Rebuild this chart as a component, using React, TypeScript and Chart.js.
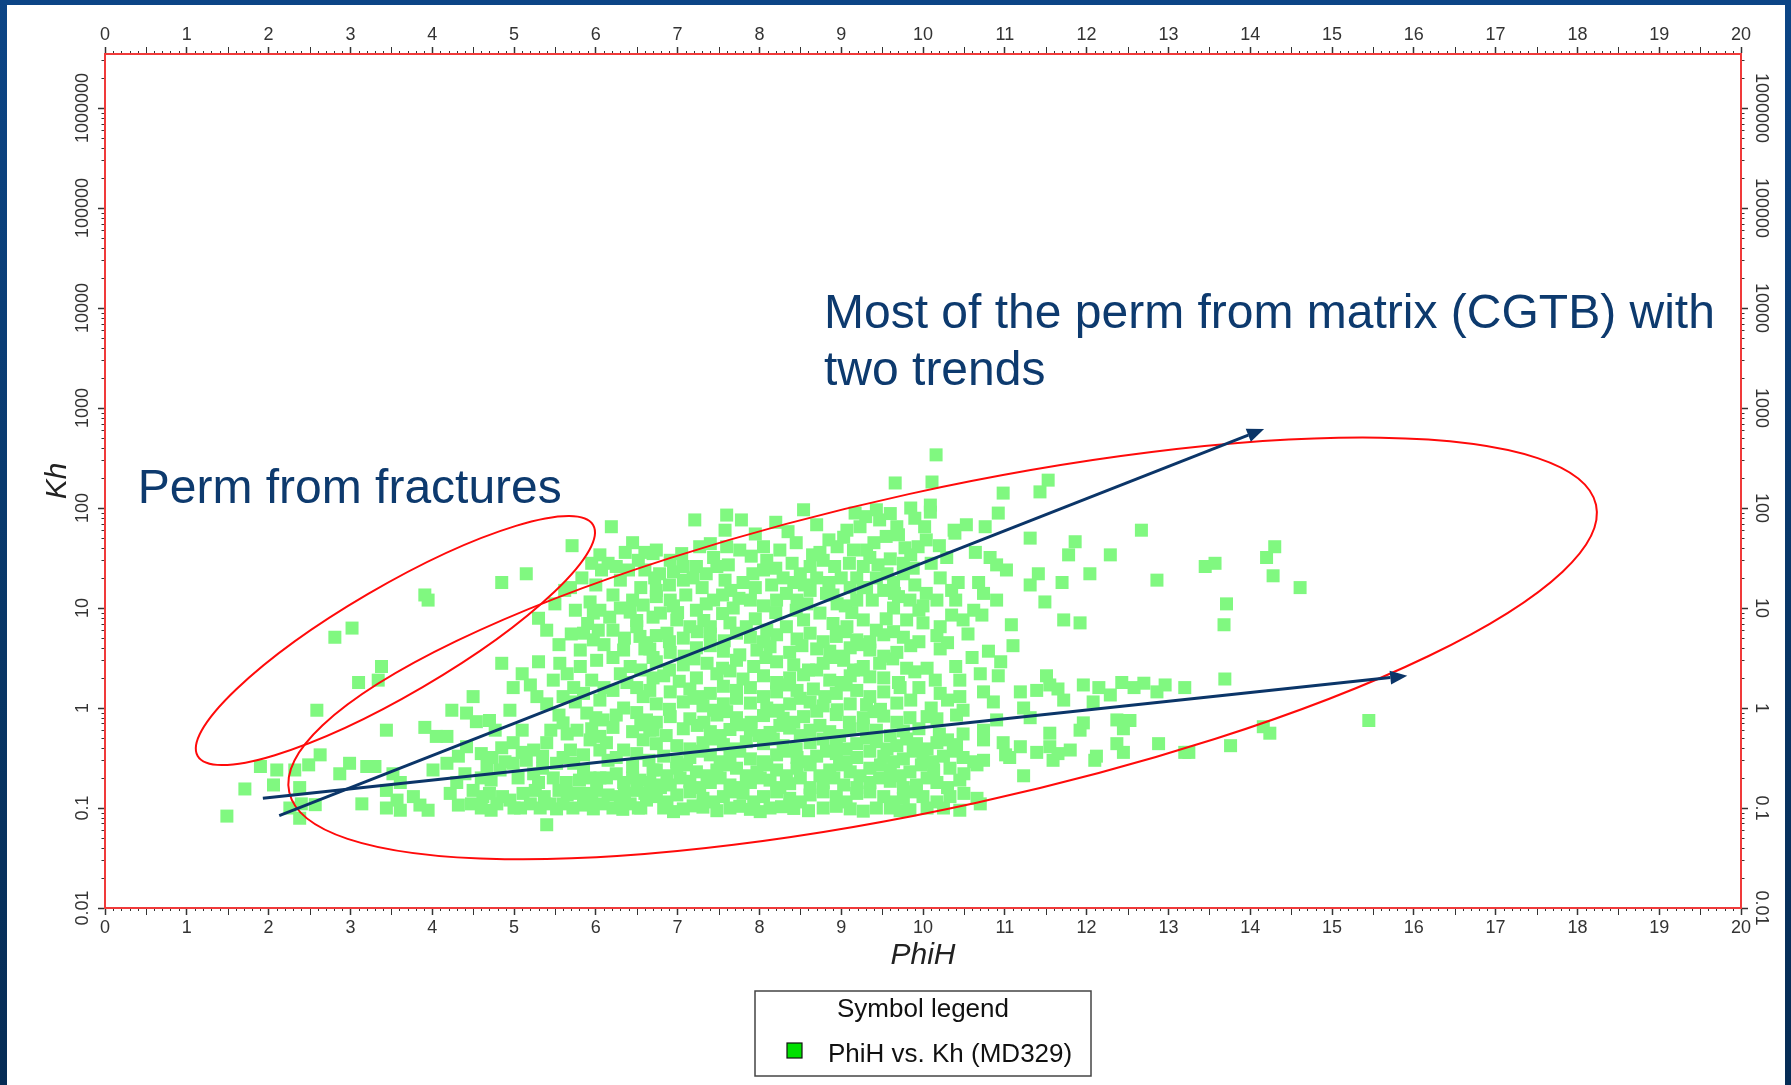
import React, { useEffect, useRef } from "react";
import { Chart, registerables } from "chart.js";

Chart.register(...registerables);

const FONT = "'Liberation Sans', Arial, Helvetica, sans-serif";

// ---------- axis ticks ----------
const xMin = 0;
const xMax = 20;
const yMin = 0.01;
const yMax = 3.47e6;
const yTickValues = [0.01, 0.1, 1, 10, 100, 1000, 10000, 100000, 1000000];
const yTickLabels = ["0.01", "0.1", "1", "10", "100", "1000", "10000", "100000", "1000000"];

// ---------- data (PhiH vs. Kh, MD329) ----------
// sparse low-PhiH points
const sparsePhiH = [
  1.49, 1.71, 1.90, 2.10, 2.06, 2.32, 2.49, 2.63, 2.38, 2.40, 2.38, 2.57,
  2.26, 2.59, 2.81, 3.02, 3.38, 3.34, 3.10, 3.44, 3.91, 3.95, 2.87, 2.99,
  3.20, 3.30, 3.52, 3.14, 3.44, 3.61, 3.57, 3.77, 3.95, 3.85, 3.44, 3.61,
];
const sparseKh = [
  0.083, 0.155, 0.26, 0.24, 0.17, 0.24, 0.27, 0.34, 0.16, 0.11, 0.079, 0.108,
  0.10, 0.95, 5.1, 6.3, 2.6, 1.9, 1.8, 0.60, 13.5, 12, 0.22, 0.28,
  0.26, 0.26, 0.22, 0.11, 0.15, 0.18, 0.12, 0.13, 0.095, 0.107, 0.10, 0.095,
];

// lower band PhiH 4 - 6.8
const bandPhiH = [
  4.85, 5.30, 4.99, 5.28, 4.50, 4.24, 4.42, 4.54, 3.91, 4.05, 4.18, 4.77,
  4.95, 4.99, 4.73, 4.89, 4.01, 4.18, 4.32, 4.42, 4.50, 4.22, 4.32, 4.48,
  4.79, 4.95, 5.11, 5.26, 5.40, 5.44, 5.60, 5.85, 6.09, 6.21, 6.42, 6.62,
  4.67, 4.83, 4.99, 5.15, 5.52, 5.48, 5.64, 5.93, 6.13, 6.34, 6.54, 6.70,
  5.77, 5.60, 5.93, 6.13, 6.34, 6.58, 6.21, 6.62, 5.40, 5.24, 5.69, 5.89,
  5.75, 6.05, 6.21, 6.38, 6.58, 6.70, 6.42, 6.21, 6.01, 5.81, 5.97, 5.56,
  5.48, 5.60, 6.62, 6.70, 5.81, 6.34, 6.54, 5.73, 6.09, 6.34, 6.70, 5.24,
  5.73, 6.01, 6.30, 6.50, 6.74, 5.77, 5.05, 5.35, 4.60, 4.40, 5.85, 6.45,
  6.15, 5.55, 4.70, 5.20, 6.55, 5.00, 6.35, 5.95, 4.30,
  4.60, 4.72, 5.08, 5.32, 5.52, 5.72, 5.97, 6.33, 6.52,
  4.62, 4.86, 5.37, 5.65, 5.90, 6.15, 6.60,
  4.72, 5.30, 5.80, 6.05, 6.25, 6.45,
  4.60, 4.85, 5.10, 5.35, 5.60, 5.85, 6.05, 6.25, 6.50, 6.65,
  5.10, 5.45, 5.65, 5.95, 6.05, 6.45, 6.55, 5.55, 6.00, 6.25, 6.50, 4.70,
  5.40, 5.85, 5.95, 6.10, 6.30, 6.50, 6.55, 5.65, 5.10, 5.20,
];
const bandKh = [
  2.8, 2.9, 1.6, 1.3, 1.3, 0.95, 0.89, 0.73, 0.64, 0.52, 0.52, 0.60,
  0.95, 0.45, 0.32, 0.29, 0.24, 0.28, 0.33, 0.41, 0.15, 0.14, 0.107, 0.11,
  0.11, 0.12, 0.14, 0.15, 0.068, 0.11, 0.11, 0.107, 0.11, 0.10, 0.11, 0.12,
  0.26, 0.24, 0.28, 0.30, 0.28, 0.20, 0.18, 0.20, 0.20, 0.18, 0.19, 0.24,
  0.60, 0.71, 0.48, 0.45, 0.38, 0.48, 0.64, 0.76, 0.45, 0.38, 0.38, 0.89,
  1.15, 1.2, 1.5, 1.8, 1.3, 2.0, 2.6, 3.2, 3.0, 3.8, 4.8, 2.8,
  1.9, 1.3, 4.5, 3.2, 2.6, 3.8, 5.2, 1.6, 0.76, 1.0, 0.60, 0.22,
  0.28, 0.15, 0.13, 0.15, 0.17, 0.14, 0.20, 0.25, 0.20, 0.22, 0.24, 0.26,
  0.30, 0.15, 0.14, 0.11, 0.10, 0.10, 0.14, 0.12, 0.18,
  0.1, 0.095, 0.1, 0.1, 0.098, 0.1, 0.098, 0.097, 0.1,
  0.13, 0.13, 0.13, 0.135, 0.14, 0.135, 0.14,
  0.19, 0.18, 0.19, 0.2, 0.22, 0.2,
  0.35, 0.4, 0.36, 0.33, 0.32, 0.34, 0.38, 0.32, 0.35, 0.3,
  0.6, 0.6, 0.55, 0.62, 0.52, 0.58, 0.68, 0.85, 0.8, 0.85, 0.9, 0.75,
  1.1, 1.4, 1.9, 1.6, 2.2, 1.6, 2.4, 2.2, 2.2, 1.7,
];

// upper-left cloud PhiH 4.8 - 6.8
const leftCloudPhiH = [
  6.19, 5.71, 6.05, 6.15, 6.07, 6.36, 6.60, 6.70, 6.40, 5.83, 5.69, 4.85,
  5.15, 5.93, 6.21, 6.30, 5.97, 6.17, 6.42, 6.58, 6.70, 5.85, 6.03, 6.21,
  6.50, 6.74, 6.72, 6.52, 5.30, 5.62,
  5.55, 5.70, 5.90, 6.10, 6.35, 6.50, 6.60, 5.40, 5.75, 6.05, 6.45, 5.50,
  6.00, 6.30, 6.55, 6.60, 6.25, 5.95, 6.45,
];
const leftCloudKh = [
  65, 42, 34, 28, 24, 36, 36, 35, 24, 20, 16, 18,
  22, 11.5, 13.5, 10, 8.9, 8.1, 9.1, 10.7, 8.1, 5.6, 6.0, 6.0,
  6.5, 13, 20, 30, 7.9, 15,
  4.3, 5.5, 7.0, 4.3, 5.0, 7.5, 3.9, 6.0, 9.5, 9.5, 12, 11,
  17, 19, 16, 24, 26, 28, 45,
];

// upper cloud PhiH 6.7 - 12.3, Kh > 5
const upperPhiH = [
  10.16, 9.66, 10.11, 10.09, 10.09, 8.54, 7.21, 7.78, 7.58, 8.35, 9.17, 9.23,
  9.43, 9.47, 9.90, 10.02, 10.98, 11.53, 11.43, 10.92, 10.76, 10.53, 10.39, 11.31,
  11.86, 11.78, 12.29, 12.04, 11.41, 11.31, 11.70, 11.49, 11.72, 11.92, 11.08, 10.49,
  10.72, 10.62, 10.21, 10.43, 10.29, 10.64, 10.82, 11.02, 10.90, 10.68, 10.74, 10.90,
  10.17, 10.04, 9.94, 10.04, 9.78, 9.68, 9.70, 9.76, 9.76, 9.64, 9.56, 9.31,
  9.35, 9.27, 9.19, 9.11, 8.95, 9.03, 9.07, 8.74, 8.78, 8.62, 8.50, 8.70,
  8.42, 8.29, 8.33, 8.21, 8.46, 8.62, 8.82, 8.95, 8.74, 8.54, 8.33, 8.09,
  9.19, 9.31, 9.43, 9.52, 9.27, 9.07, 9.43, 9.64, 9.84, 9.80, 10.00, 10.21,
  8.05, 8.09, 8.05, 7.76, 7.60, 7.44, 7.48, 7.27, 7.23, 7.19, 7.58, 7.80,
  7.89, 7.68, 7.44, 7.23, 7.15, 7.40, 7.64, 7.84, 6.74, 6.91, 7.07, 6.78,
  6.74, 6.91, 6.79, 6.99, 6.87, 7.07,
  7.00, 7.32, 7.55, 7.95, 8.20, 8.45, 8.90, 9.13, 9.55, 9.95, 10.35,
  6.95, 7.10, 7.35, 7.55, 7.75, 8.05, 8.58, 8.90, 9.05, 9.38, 9.70, 10.00, 10.40,
  6.90, 7.30, 7.65, 7.95, 8.15, 8.55, 8.85, 9.00, 9.27, 9.65, 9.90, 10.35,
  6.95, 7.35, 7.62, 7.92, 8.20, 8.40, 8.92, 9.10, 9.45, 9.60, 9.88, 10.10,
  7.05, 7.40, 7.90, 8.25, 8.45, 8.65, 8.85, 9.15, 9.40, 9.55, 9.85, 10.20,
  7.60, 7.95, 8.20, 8.70, 9.30, 9.60, 9.85, 10.38,
];
const upperKh = [
  340, 178, 182, 107, 91, 96, 76, 76, 60, 58, 89, 65,
  96, 76, 79, 65, 141, 190, 145, 89, 65, 68, 56, 50,
  46, 34, 34, 22, 22, 17, 18, 11.5, 7.6, 7.1, 6.8, 7.6,
  8.5, 9.5, 20, 18, 32, 36, 32, 24, 27, 18, 14, 12,
  12, 14, 41, 48, 40, 65, 54, 28, 22, 18, 22, 38,
  32, 26, 20, 16, 41, 51, 60, 36, 30, 26, 22, 20,
  18, 20, 14, 12, 12, 15, 14, 11, 8.9, 7.6, 6.5, 6.0,
  12, 16, 20, 15, 7.6, 6.5, 6.0, 10, 12, 7.6, 7.1, 6.5,
  41, 30, 24, 38, 41, 32, 26, 41, 26, 20, 19, 18,
  12, 10, 12, 9.5, 6.5, 6.5, 7.1, 6.5, 38, 30, 26, 22,
  15, 12, 8.9, 7.6, 5.6, 19,
  9.0, 7.5, 8.8, 7.8, 9.0, 9.5, 7.0, 9.0, 7.8, 9.5, 8.5,
  10.5, 13.5, 11, 13.5, 12.5, 10.5, 11, 13.5, 10.5, 12, 13, 10.5, 12,
  17, 16, 15, 16, 17, 17, 18, 20, 16, 14, 17, 15,
  23, 22, 27, 22, 25, 28, 26, 28, 27, 31, 25, 28,
  35, 44, 33, 38, 45, 34, 48, 38, 45, 52, 34, 42,
  85, 55, 72, 68, 82, 88, 100, 60,
];

// dense core PhiH 6.6 - 12.5, Kh 0.1 - 5
const corePhiH = [
  6.74, 7.07, 7.40, 7.89, 8.21, 8.46, 8.62, 8.94, 9.19, 9.52, 9.76, 10.17,
  6.90, 7.24, 7.57, 7.72, 8.05, 8.78, 9.05, 9.35, 9.64, 9.95,
  6.66, 6.91, 7.23, 7.56, 7.97, 8.13, 8.37, 8.70, 8.86, 9.11, 9.35, 9.68, 10.21, 10.80,
  7.08, 7.40, 7.76, 8.52, 9.00, 9.23, 9.52, 9.85,
  6.74, 7.07, 7.36, 7.72, 7.93, 8.21, 8.42, 8.78, 9.03, 9.27, 9.47, 10.05,
  6.90, 7.20, 7.55, 8.08, 8.60, 8.92, 9.15, 9.63, 9.80,
  6.83, 7.23, 7.48, 7.80, 8.05, 8.37, 8.54, 8.86, 9.11, 9.35, 9.52, 10.92, 11.51,
  7.02, 7.64, 8.21, 8.70, 9.00, 9.24, 9.70, 9.90, 10.15,
  6.66, 6.91, 7.15, 7.40, 7.72, 7.89, 8.21, 8.46, 8.66, 8.94, 9.19, 9.52, 9.72, 10.21, 10.74, 11.19, 11.39, 11.96, 12.29, 12.43,
  7.28, 7.56, 8.05, 8.33, 8.80, 9.06, 9.35, 9.95, 10.45,
  6.74, 7.07, 7.31, 7.56, 7.89, 8.09, 8.37, 8.62, 8.78, 9.11, 9.31, 9.68, 10.49, 10.86, 11.23, 11.72, 12.08,
  6.90, 7.20, 7.44, 7.72, 8.23, 8.50, 8.95, 9.48, 9.85, 10.10, 10.30,
  6.91, 7.15, 7.48, 7.72, 8.05, 8.29, 8.54, 8.94, 9.27, 9.52, 9.84, 10.05, 10.17, 10.41, 10.90, 11.31, 11.96, 12.37,
  6.74, 7.32, 7.60, 7.90, 8.17, 8.42, 8.70, 9.10, 9.40, 9.68,
  6.66, 7.07, 7.40, 7.64, 7.89, 8.13, 8.37, 8.62, 8.86, 9.11, 9.43, 9.76, 10.49, 10.74, 11.55, 11.92, 12.45,
  6.86, 7.24, 7.52, 7.76, 8.00, 8.25, 8.50, 8.74, 8.98, 9.27, 9.60, 9.95, 10.20,
  6.74, 6.99, 7.31, 7.56, 7.84, 8.05, 8.29, 8.62, 8.94, 9.19, 9.43, 9.68, 9.92, 10.17, 10.41, 10.74, 10.98, 11.19, 11.55, 11.80, 12.37,
  7.15, 7.44, 7.70, 8.17, 8.45, 8.78, 9.06, 9.31, 9.56, 9.80, 10.05, 10.30,
  6.83, 7.15, 7.40, 7.64, 7.89, 8.21, 8.46, 8.70, 8.94, 9.19, 9.52, 9.76, 10.0, 10.25, 10.49, 10.74, 11.06, 11.59, 12.12,
  6.99, 7.27, 7.52, 7.76, 8.05, 8.33, 8.58, 8.82, 9.06, 9.35, 9.64, 9.88, 10.12, 10.37, 10.62,
  6.74, 6.99, 7.23, 7.48, 7.72, 7.97, 8.21, 8.46, 8.86, 9.11, 9.35, 9.60, 9.84, 10.13, 10.33, 10.66, 11.23,
  6.87, 7.11, 7.36, 7.60, 7.84, 8.09, 8.33, 8.62, 8.74, 8.98, 9.23, 9.48, 9.72, 9.98, 10.50,
  6.66, 6.91, 7.15, 7.40, 7.64, 7.89, 8.13, 8.37, 8.78, 9.03, 9.35, 9.60, 9.92, 10.17,
  6.79, 7.03, 7.27, 7.52, 7.76, 8.01, 8.25, 8.50, 8.62, 8.91, 9.19, 9.47, 9.76, 10.05, 10.30, 10.45,
  6.74, 6.99, 7.31, 7.56, 7.80, 8.05, 8.37, 8.62, 8.94, 9.19, 9.52, 9.76, 10.0, 10.33, 10.66,
  6.87, 7.15, 7.44, 7.68, 7.93, 8.21, 8.50, 8.78, 9.06, 9.35, 9.64, 9.88, 10.17, 10.50,
  6.83, 7.07, 7.31, 7.64, 7.89, 8.13, 8.42, 8.78, 9.11, 9.43, 9.84, 10.05,
  6.95, 7.19, 7.48, 7.76, 8.01, 8.27, 8.60, 8.94, 9.27, 9.60, 9.72, 10.25, 10.45, 10.70,
  11.01, 11.39, 11.65, 12.10, 11.55, 11.65, 12.15, 12.58,
  10.40, 10.60, 10.30, 10.55, 10.95, 11.10, 10.45, 10.70,
];
const coreKh = [
  5.3, 5.0, 5.5, 5.1, 5.4, 4.9, 5.6, 5.2, 4.8, 5.4, 5.1, 5.3,
  4.6, 5.8, 4.7, 5.6, 4.6, 4.6, 5.8, 4.6, 5.8, 4.6,
  3.9, 3.6, 4.0, 3.7, 3.8, 4.1, 3.6, 3.9, 3.7, 4.0, 3.8, 3.6, 3.9, 3.7,
  3.3, 4.2, 3.4, 4.2, 3.3, 4.3, 3.3, 4.2,
  2.9, 2.7, 2.8, 3.0, 2.6, 2.9, 2.7, 2.8, 3.0, 2.6, 2.8, 2.5,
  2.4, 3.1, 2.5, 3.2, 2.4, 3.2, 2.4, 3.1, 2.5,
  2.1, 2.0, 2.2, 1.95, 2.1, 2.0, 2.15, 1.9, 2.1, 2.05, 2.0, 2.1, 2.1,
  1.85, 2.35, 1.8, 2.4, 1.8, 2.4, 1.8, 2.3, 1.9,
  1.5, 1.45, 1.55, 1.4, 1.5, 1.6, 1.45, 1.5, 1.55, 1.4, 1.5, 1.45, 1.6, 1.4, 1.45, 1.45, 1.5, 1.7, 1.35, 1.8,
  1.3, 1.65, 1.3, 1.7, 1.3, 1.7, 1.3, 1.6, 1.3,
  1.1, 1.15, 1.05, 1.1, 1.12, 1.0, 1.1, 1.15, 1.05, 1.1, 1.08, 1.12, 0.95, 1.15, 1.0, 1.2, 1.15,
  0.97, 1.25, 0.95, 1.25, 0.95, 1.25, 0.96, 0.97, 1.2, 1.0, 1.2,
  0.82, 0.78, 0.85, 0.8, 0.84, 0.79, 0.82, 0.86, 0.8, 0.83, 0.8, 0.82, 0.78, 0.85, 0.76, 0.8, 0.71, 0.76,
  0.72, 0.72, 0.92, 0.72, 0.93, 0.72, 0.93, 0.72, 0.92, 0.72,
  0.6, 0.62, 0.58, 0.61, 0.6, 0.57, 0.63, 0.6, 0.58, 0.62, 0.6, 0.59, 0.55, 0.6, 0.56, 0.6, 0.62,
  0.53, 0.67, 0.53, 0.68, 0.53, 0.67, 0.53, 0.67, 0.53, 0.66, 0.53, 0.62, 0.55,
  0.44, 0.42, 0.45, 0.43, 0.46, 0.44, 0.42, 0.45, 0.43, 0.44, 0.46, 0.42, 0.44, 0.45, 0.43, 0.48, 0.45, 0.41, 0.41, 0.38, 0.44,
  0.39, 0.49, 0.39, 0.49, 0.39, 0.49, 0.39, 0.5, 0.39, 0.49, 0.39, 0.48,
  0.33, 0.32, 0.34, 0.33, 0.31, 0.34, 0.32, 0.33, 0.35, 0.32, 0.33, 0.31, 0.34, 0.33, 0.32, 0.3, 0.32, 0.3, 0.33,
  0.29, 0.37, 0.29, 0.37, 0.29, 0.37, 0.29, 0.37, 0.29, 0.37, 0.29, 0.37, 0.29, 0.37, 0.29,
  0.24, 0.25, 0.23, 0.24, 0.25, 0.23, 0.24, 0.25, 0.24, 0.23, 0.25, 0.24, 0.23, 0.24, 0.25, 0.27, 0.21,
  0.21, 0.27, 0.21, 0.27, 0.21, 0.27, 0.21, 0.27, 0.21, 0.27, 0.21, 0.27, 0.21, 0.27, 0.22,
  0.18, 0.17, 0.185, 0.18, 0.17, 0.18, 0.19, 0.175, 0.18, 0.17, 0.18, 0.185, 0.17, 0.18,
  0.16, 0.2, 0.16, 0.2, 0.16, 0.2, 0.16, 0.2, 0.16, 0.2, 0.16, 0.2, 0.16, 0.2, 0.16, 0.19,
  0.13, 0.135, 0.125, 0.13, 0.14, 0.13, 0.125, 0.135, 0.13, 0.14, 0.13, 0.125, 0.13, 0.13, 0.125,
  0.115, 0.145, 0.115, 0.145, 0.115, 0.145, 0.115, 0.145, 0.115, 0.145, 0.115, 0.145, 0.115, 0.14,
  0.1, 0.098, 0.102, 0.1, 0.097, 0.1, 0.099, 0.1, 0.098, 0.1, 0.096, 0.1,
  0.092, 0.105, 0.094, 0.104, 0.092, 0.103, 0.094, 0.104, 0.093, 0.1, 0.094, 0.1, 0.095, 0.11,
  0.34, 0.36, 0.35, 0.30, 1.7, 1.55, 1.6, 1.6,
  2.6, 3.2, 4.5, 5.5, 2.9, 4.2, 1.9, 2.2,
];

// high-PhiH scattered points
const highPhiH = [
  12.70, 12.86, 12.96, 13.20, 13.69, 12.53, 12.45, 12.88, 13.20, 13.25, 13.76, 14.16,
  14.24, 15.45, 12.45, 12.67, 12.86, 13.45, 13.57, 14.30, 14.20, 14.28, 14.61, 13.71, 13.68,
];
const highKh = [
  1.77, 1.45, 1.7, 1.6, 1.95, 0.75, 0.75, 0.44, 0.36, 0.36, 0.42, 0.65,
  0.56, 0.75, 0.36, 60, 19, 26, 28, 41, 32, 21, 16, 11, 6.8,
];

const phiH = [...sparsePhiH, ...bandPhiH, ...leftCloudPhiH, ...upperPhiH, ...corePhiH, ...highPhiH];
const kh = [...sparseKh, ...bandKh, ...leftCloudKh, ...upperKh, ...coreKh, ...highKh];

// ---------- annotations (data coordinates) ----------
const ellipseCentersPhiH = [3.55, 10.24];
const ellipseCentersKh = [4.73, 3.94];
const ellipseShapes = [
  { rx: 229, ry: 54, rotDeg: -30.3 },
  { rx: 669, ry: 158, rotDeg: -12.4 },
];
const arrowStartPhiH = [2.13, 1.93];
const arrowStartKh = [0.0838, 0.125];
const arrowEndPhiH = [14.17, 15.92];
const arrowEndKh = [617, 2.1];
const noteTexts = [["Perm from fractures"], ["Most of the perm from matrix (CGTB) with", "two trends"]];
const notePhiH = [0.4, 8.79];
const noteKh = [112, 6310];

const seriesLabel = "PhiH vs. Kh (MD329)";

const decorPlugin = {
  id: "decor",
  afterDatasetsDraw(chart: any) {
    const { ctx, scales } = chart;
    const xs = scales.x;
    const ys = scales.y;
    ctx.save();
    // ellipses
    ctx.strokeStyle = "#ff0a0a";
    ctx.lineWidth = 2;
    for (let i = 0; i < ellipseShapes.length; i++) {
      const cx = xs.getPixelForValue(ellipseCentersPhiH[i]);
      const cy = ys.getPixelForValue(ellipseCentersKh[i]);
      const s = ellipseShapes[i];
      ctx.beginPath();
      ctx.ellipse(cx, cy, s.rx, s.ry, (s.rotDeg * Math.PI) / 180, 0, Math.PI * 2);
      ctx.stroke();
    }
    // arrows
    const navy = "#0b3568";
    ctx.strokeStyle = navy;
    ctx.fillStyle = navy;
    ctx.lineWidth = 3;
    for (let i = 0; i < arrowStartPhiH.length; i++) {
      const x1 = xs.getPixelForValue(arrowStartPhiH[i]);
      const y1 = ys.getPixelForValue(arrowStartKh[i]);
      const x2 = xs.getPixelForValue(arrowEndPhiH[i]);
      const y2 = ys.getPixelForValue(arrowEndKh[i]);
      const ang = Math.atan2(y2 - y1, x2 - x1);
      const hl = 17;
      const hw = 7;
      const bx = x2 - hl * Math.cos(ang);
      const by = y2 - hl * Math.sin(ang);
      ctx.beginPath();
      ctx.moveTo(x1, y1);
      ctx.lineTo(bx, by);
      ctx.stroke();
      ctx.beginPath();
      ctx.moveTo(x2, y2);
      ctx.lineTo(bx + hw * Math.sin(ang), by - hw * Math.cos(ang));
      ctx.lineTo(bx - hw * Math.sin(ang), by + hw * Math.cos(ang));
      ctx.closePath();
      ctx.fill();
    }
    // text notes
    ctx.fillStyle = "#0d3a6e";
    ctx.font = `48px ${FONT}`;
    ctx.textAlign = "left";
    ctx.textBaseline = "alphabetic";
    for (let i = 0; i < noteTexts.length; i++) {
      const x = xs.getPixelForValue(notePhiH[i]);
      const y = ys.getPixelForValue(noteKh[i]);
      noteTexts[i].forEach((line, j) => ctx.fillText(line, x, y + j * 57));
    }
    ctx.restore();
  },
  afterDraw(chart: any) {
    const { ctx, chartArea: ca, scales } = chart;
    const xs = scales.x;
    const ys = scales.y;
    ctx.save();
    ctx.strokeStyle = "#333";
    ctx.lineWidth = 1;
    // minor x ticks (0.1 and 0.5)
    for (let i = 0; i <= 200; i++) {
      if (i % 10 === 0) continue;
      const px = Math.round(xs.getPixelForValue(i / 10)) + 0.5;
      const len = i % 5 === 0 ? 6 : 2;
      ctx.beginPath();
      ctx.moveTo(px, ca.bottom + 1);
      ctx.lineTo(px, ca.bottom + 1 + len);
      ctx.moveTo(px, ca.top - 1);
      ctx.lineTo(px, ca.top - 1 - len);
      ctx.stroke();
    }
    // y ticks (decades and 2..9)
    for (let e = -2; e <= 6; e++) {
      for (let m = 1; m <= 9; m++) {
        const v = m * Math.pow(10, e);
        if (v > yMax) break;
        const py = Math.round(ys.getPixelForValue(v)) + 0.5;
        const len = m === 1 ? 6 : 2.5;
        ctx.lineWidth = m === 1 ? 1.5 : 1;
        ctx.beginPath();
        ctx.moveTo(ca.left - 1, py);
        ctx.lineTo(ca.left - 1 - len, py);
        ctx.moveTo(ca.right + 1, py);
        ctx.lineTo(ca.right + 1 + len, py);
        ctx.stroke();
      }
    }
    // y tick labels, rotated
    ctx.fillStyle = "#333";
    ctx.font = `18px ${FONT}`;
    ctx.textAlign = "center";
    ctx.textBaseline = "middle";
    yTickValues.forEach((v, i) => {
      const py = ys.getPixelForValue(v);
      ctx.save();
      ctx.translate(ca.left - 22, py);
      ctx.rotate(-Math.PI / 2);
      ctx.fillText(yTickLabels[i], 0, 0);
      ctx.restore();
      ctx.save();
      ctx.translate(ca.right + 20, py);
      ctx.rotate(Math.PI / 2);
      ctx.fillText(yTickLabels[i], 0, 0);
      ctx.restore();
    });
    // legend box
    const cx = (ca.left + ca.right) / 2;
    const bx = cx - 168;
    const by = 991;
    ctx.strokeStyle = "#444";
    ctx.lineWidth = 1.5;
    ctx.strokeRect(bx, by, 336, 85);
    ctx.fillStyle = "#111";
    ctx.font = `26px ${FONT}`;
    ctx.textAlign = "center";
    ctx.textBaseline = "alphabetic";
    ctx.fillText("Symbol legend", cx, 1017);
    ctx.fillStyle = "#00e000";
    ctx.fillRect(bx + 32, 1043, 15, 15);
    ctx.strokeStyle = "#111";
    ctx.lineWidth = 1.2;
    ctx.strokeRect(bx + 32, 1043, 15, 15);
    ctx.fillStyle = "#111";
    ctx.textAlign = "left";
    ctx.fillText(seriesLabel, bx + 73, 1062);
    ctx.restore();
  },
};

export default function App() {
  const ref = useRef<HTMLCanvasElement>(null);
  useEffect(() => {
    const canvas = ref.current;
    if (!canvas) return;
    const n = Math.min(phiH.length, kh.length);
    const points = [];
    for (let i = 0; i < n; i++) points.push({ x: phiH[i], y: kh[i] });
    const axisBorder = { display: true, color: "#f03a3a", width: 2 };
    const tickFont = { size: 18, family: FONT };
    const chart = new Chart(canvas, {
      type: "scatter",
      data: {
        datasets: [
          {
            label: seriesLabel,
            data: points,
            pointStyle: "rect",
            pointRadius: 9.2,
            pointHoverRadius: 9.2,
            backgroundColor: "rgb(128,248,128)",
            borderWidth: 0,
            xAxisID: "x",
            yAxisID: "y",
          },
        ],
      },
      options: {
        animation: false,
        responsive: false,
        maintainAspectRatio: false,
        events: [],
        layout: { padding: { left: 0, right: 0, top: 0, bottom: 107 } },
        plugins: { legend: { display: false }, tooltip: { enabled: false } },
        scales: {
          x: {
            type: "linear",
            position: "bottom",
            min: xMin,
            max: xMax,
            ticks: { stepSize: 1, autoSkip: false, maxRotation: 0, font: tickFont, color: "#333", padding: 2 },
            grid: { display: true, drawOnChartArea: false, drawTicks: true, tickLength: 7, tickColor: "#333", tickWidth: 1.5 },
            border: axisBorder,
            title: {
              display: true,
              text: "PhiH",
              color: "#222",
              font: { size: 30, style: "italic", family: FONT },
              padding: { top: 0, bottom: 4 },
            },
            afterFit: (s: any) => {
              s.height = 70;
            },
          },
          x2: {
            type: "linear",
            position: "top",
            min: xMin,
            max: xMax,
            ticks: { stepSize: 1, autoSkip: false, maxRotation: 0, font: tickFont, color: "#333", padding: 1 },
            grid: { display: true, drawOnChartArea: false, drawTicks: true, tickLength: 7, tickColor: "#333", tickWidth: 1.5 },
            border: axisBorder,
            afterFit: (s: any) => {
              s.height = 54;
            },
          },
          y: {
            type: "logarithmic",
            position: "left",
            min: yMin,
            max: yMax,
            bounds: "data",
            ticks: { display: false },
            grid: { display: false, drawTicks: false },
            border: axisBorder,
            title: {
              display: true,
              text: "Kh",
              color: "#222",
              font: { size: 30, style: "italic", family: FONT },
              padding: { top: 40, bottom: 0 },
            },
            afterFit: (s: any) => {
              s.width = 105;
            },
          },
          y2: {
            type: "logarithmic",
            position: "right",
            min: yMin,
            max: yMax,
            bounds: "data",
            ticks: { display: false },
            grid: { display: false, drawTicks: false },
            border: axisBorder,
            afterFit: (s: any) => {
              s.width = 50;
            },
          },
        },
      } as any,
      plugins: [decorPlugin],
    });
    return () => chart.destroy();
  }, []);

  return (
    <div
      style={{
        position: "fixed",
        left: 0,
        top: 0,
        width: 1791,
        height: 1085,
        overflow: "hidden",
        background: "linear-gradient(180deg, #0c4586 0%, #083666 60%, #062c55 100%)",
      }}
    >
      <div style={{ position: "absolute", left: 7, top: 5, width: 1778, height: 1080, background: "#ffffff" }} />
      <canvas
        ref={ref}
        width={1791}
        height={1085}
        style={{ position: "absolute", left: 0, top: 0, width: 1791, height: 1085 }}
      />
    </div>
  );
}
